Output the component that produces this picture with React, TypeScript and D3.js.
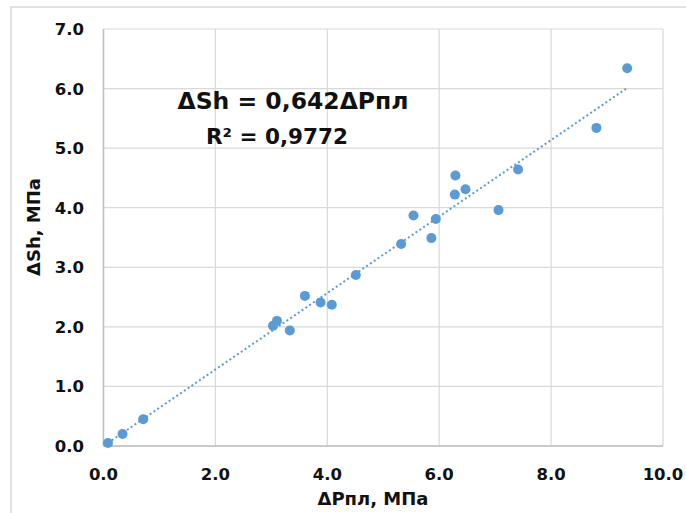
import React from "react";
import * as d3 from "d3";

// ΔPпл (x) and ΔSh (y), MPa
const dP = [0.08, 0.34, 0.71, 3.03, 3.1, 3.33, 3.6, 3.88, 4.08, 4.51, 5.32, 5.54, 5.86, 5.94, 6.28, 6.29, 6.47, 7.06, 7.41, 8.81, 9.36];
const dSh = [0.05, 0.2, 0.45, 2.02, 2.1, 1.94, 2.52, 2.41, 2.37, 2.87, 3.39, 3.87, 3.49, 3.81, 4.22, 4.54, 4.31, 3.96, 4.64, 5.34, 6.34];
const xTicks = [0, 2, 4, 6, 8, 10];
const yTicks = [0, 1, 2, 3, 4, 5, 6, 7];
const slope = 0.642;

const W = 686;
const H = 513;
const margin = { top: 29, right: 23, bottom: 67, left: 103.5 };
const font = "'DejaVu Sans', sans-serif";
const blue = "#5B9BD5";

export default function App() {
  const x = d3.scaleLinear().domain([0, 10]).range([margin.left, W - margin.right]);
  const y = d3.scaleLinear().domain([0, 7]).range([H - margin.bottom, margin.top]);
  const fmt = d3.format(".1f");

  const xMin = d3.min(dP) as number;
  const xMax = d3.max(dP) as number;
  const trend = d3.line<number>().x((d) => x(d)).y((d) => y(d * slope))([xMin, xMax]) as string;

  return (
    <svg width={W} height={H} style={{ position: "absolute", left: 0, top: 0, background: "#fff" }}>
      <rect x={11} y={7} width={W + 20} height={H + 20} fill="#fff" stroke="#d9d9d9" strokeWidth={1.5} />
      {xTicks.map((t) => (
        <line key={"gx" + t} x1={x(t)} x2={x(t)} y1={y(0)} y2={y(7)} stroke="#d9d9d9" strokeWidth={1.2} />
      ))}
      {yTicks.map((t) => (
        <line key={"gy" + t} x1={x(0)} x2={x(10)} y1={y(t)} y2={y(t)} stroke="#d9d9d9" strokeWidth={1.2} />
      ))}
      <line x1={x(0)} x2={x(10)} y1={y(0)} y2={y(0)} stroke="#bfbfbf" strokeWidth={1.5} />
      <line x1={x(0)} x2={x(0)} y1={y(0)} y2={y(7)} stroke="#bfbfbf" strokeWidth={1.5} />

      {yTicks.map((t) => (
        <text key={"ty" + t} x={84} y={y(t)} dy="0.36em" textAnchor="end" fontFamily={font} fontWeight="bold" fontSize={16.5} fill="#111">
          {fmt(t)}
        </text>
      ))}
      {xTicks.map((t) => (
        <text key={"tx" + t} x={x(t)} y={480} textAnchor="middle" fontFamily={font} fontWeight="bold" fontSize={16.5} fill="#111">
          {fmt(t)}
        </text>
      ))}

      <path d={trend} fill="none" stroke={blue} strokeWidth={2} strokeDasharray="2 2.6" />
      {dP.map((v, i) => (
        <circle key={i} cx={x(v)} cy={y(dSh[i])} r={5} fill={blue} />
      ))}

      <text x={293} y={109} textAnchor="middle" fontFamily={font} fontWeight="bold" fontSize={23.5} fill="#111">
        ΔSh = 0,642ΔPпл
      </text>
      <text x={277} y={144} textAnchor="middle" fontFamily={font} fontWeight="bold" fontSize={21.5} fill="#111">
        R² = 0,9772
      </text>

      <text x={373} y={505} textAnchor="middle" fontFamily={font} fontWeight="bold" fontSize={18} fill="#111">
        ΔPпл, МПа
      </text>
      <text transform={`translate(40, 227) rotate(-90)`} textAnchor="middle" fontFamily={font} fontWeight="bold" fontSize={18} fill="#111">
        ΔSh, МПа
      </text>
    </svg>
  );
}
